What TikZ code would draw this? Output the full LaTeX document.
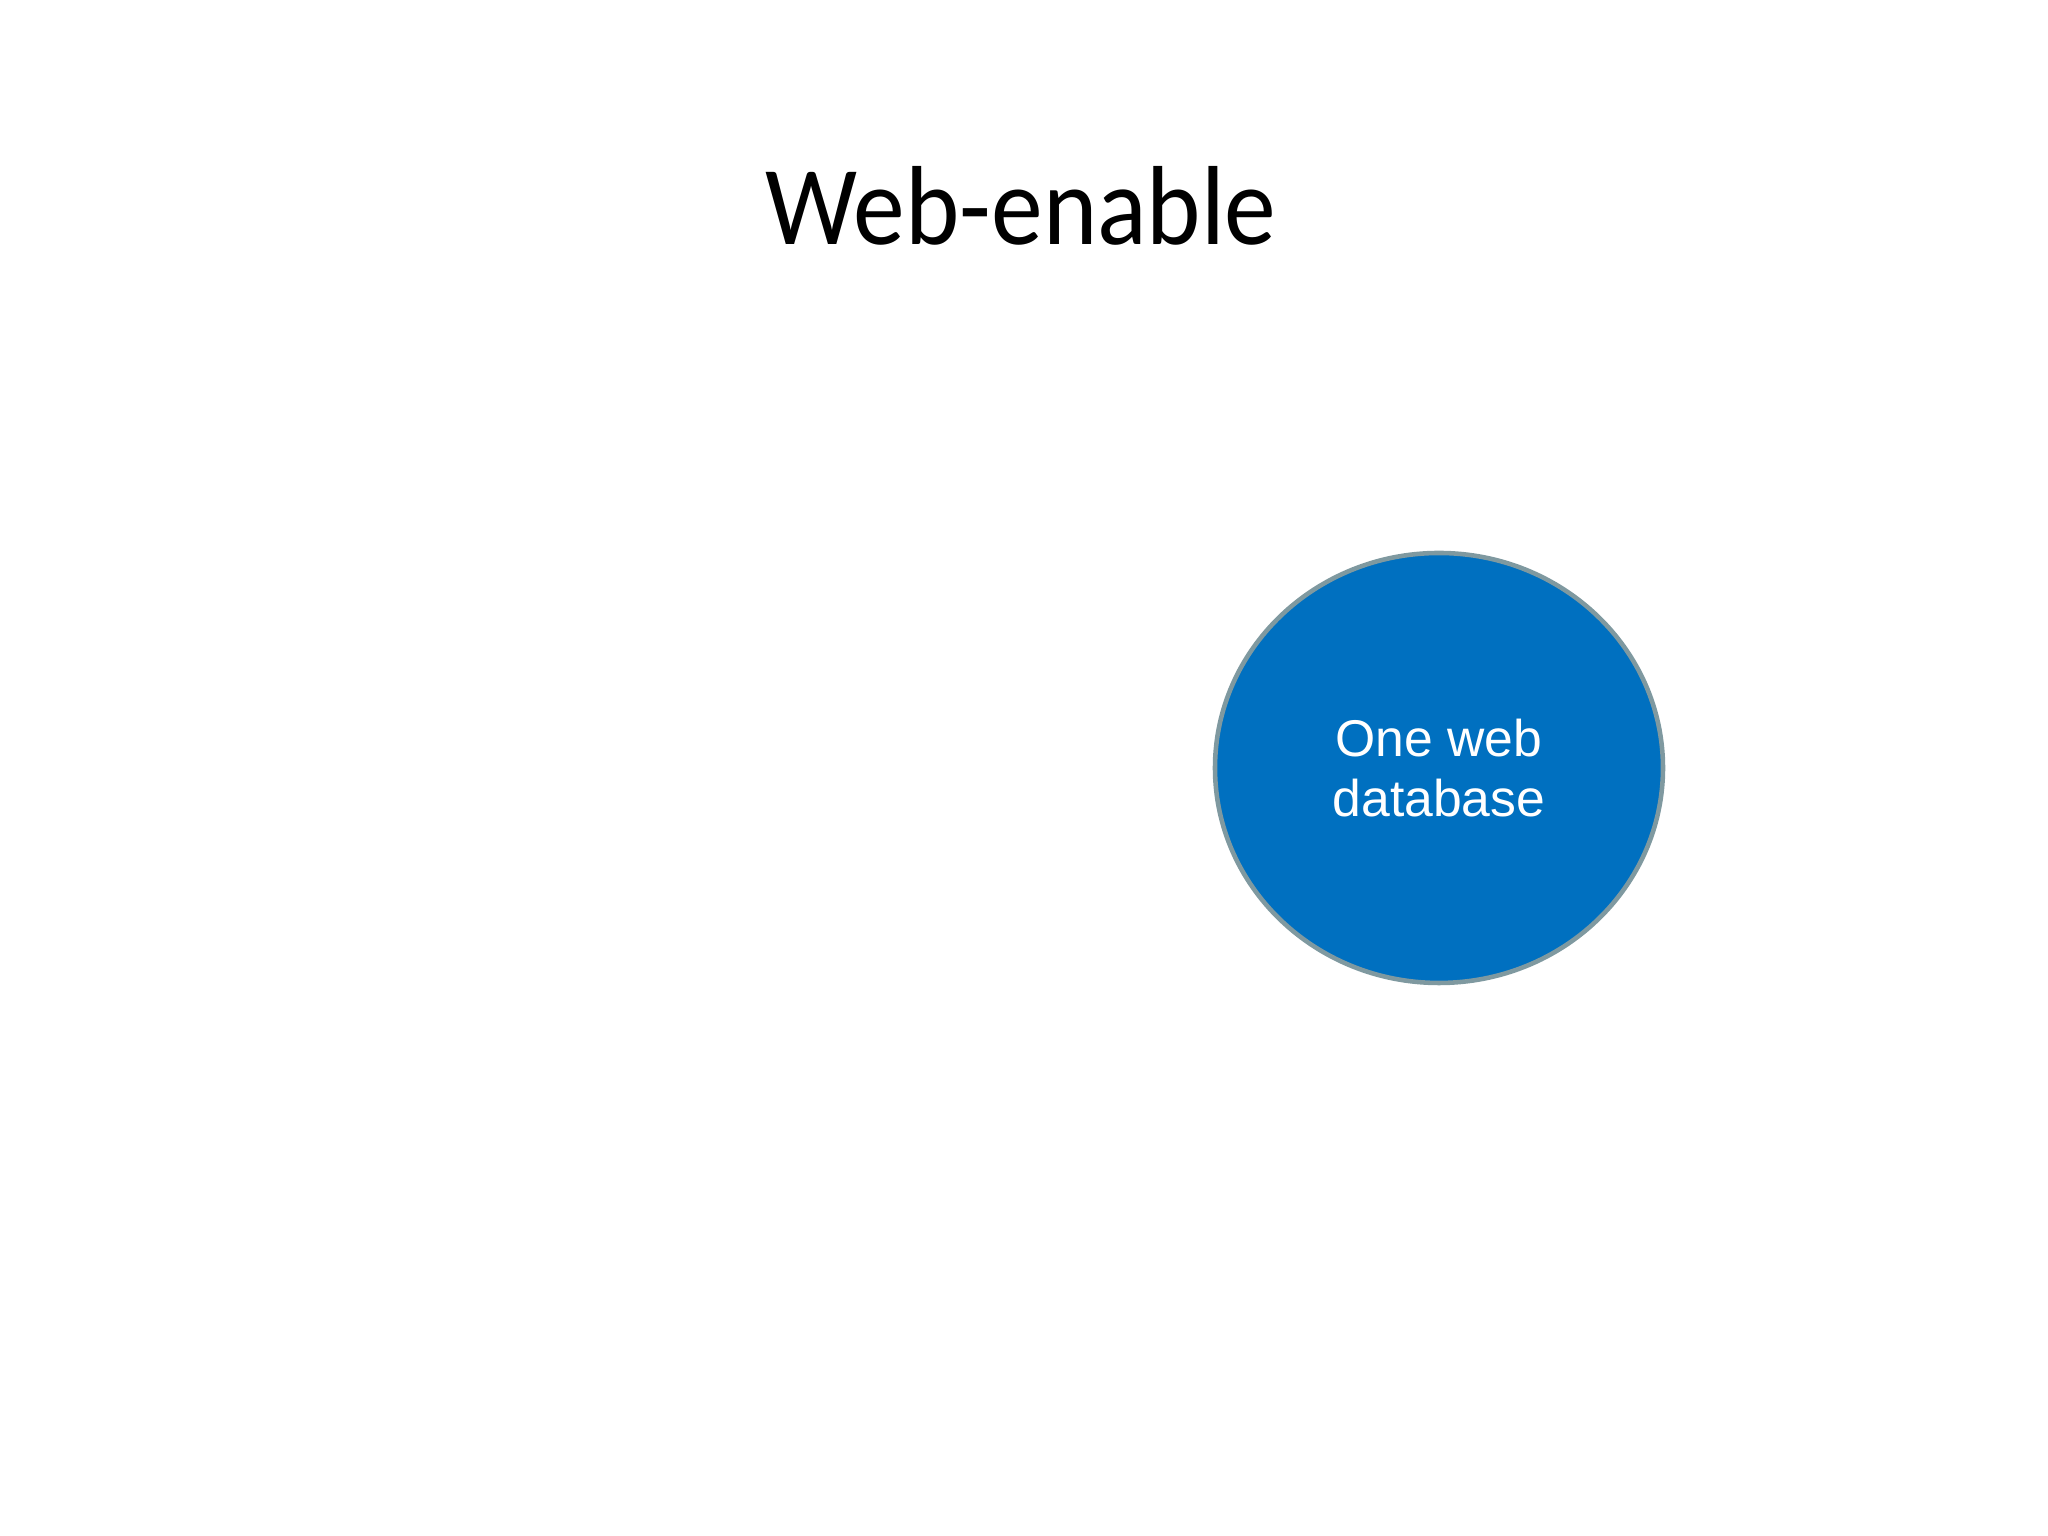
\documentclass[tikz,border=0pt]{standalone}
\usepackage{fontspec}
\setmainfont{Carlito}
\newfontfamily\titlefont[FakeStretch=0.92]{Carlito}
\newfontfamily\arialfont{Liberation Sans}
\usetikzlibrary{shapes.geometric}

\definecolor{dbblue}{HTML}{0070C0}
\definecolor{dbrim}{HTML}{7F99A0}

\begin{document}
\begin{tikzpicture}
    \useasboundingbox (0,0) rectangle (20.48,15.36);

    % slide title
    \node[anchor=base, font=\titlefont\fontsize{32}{38}\selectfont] (title) at (10.21, 12.91) {Web-enable};

    % the one database
    \node[ellipse, draw=dbrim, line width=1.3pt, fill=dbblue, text=white,
          minimum width=4.48cm, minimum height=4.30cm, inner sep=0pt, align=center,
          font=\arialfont\fontsize{14.7}{17}\selectfont] (db) at (14.39, 7.68) {One web\\database};
\end{tikzpicture}
\end{document}
